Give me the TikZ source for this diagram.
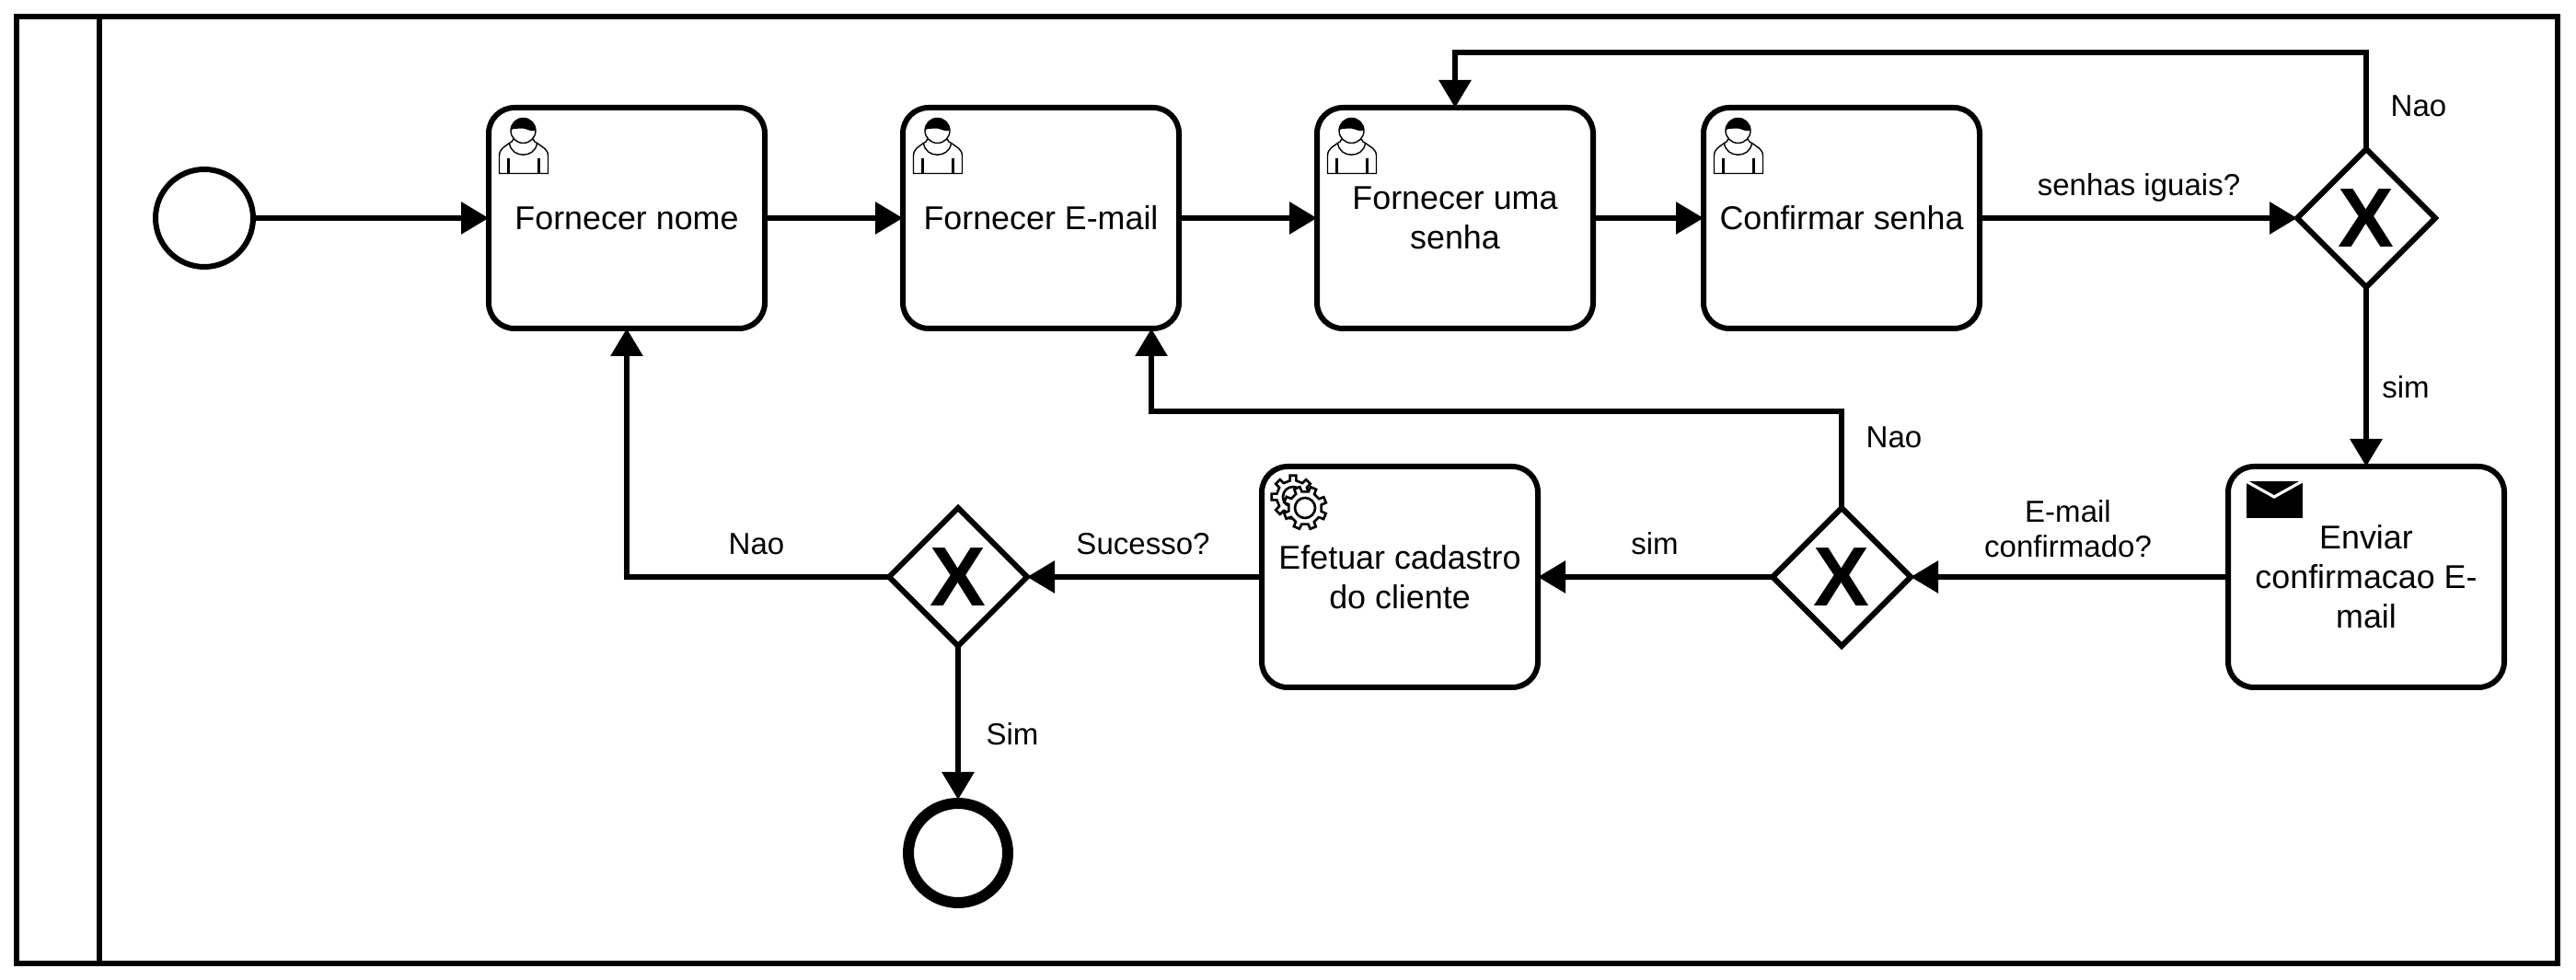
\documentclass[tikz,border=0pt]{standalone}
\usepackage{fontspec}
\setmainfont{Liberation Sans}
\usetikzlibrary{arrows.meta, calc, shapes.geometric}

\tikzset{
  usericon/.pic={
    \begin{scope}[shift={(-0.015,0.025)}, line width=0.4pt]
    \draw[fill=white] (0.13,-0.74) -- (0.13,-0.55)
      .. controls (0.13,-0.47) and (0.19,-0.45) .. (0.24,-0.41)
      .. controls (0.26,-0.40) and (0.28,-0.39) .. (0.28,-0.37)
      -- (0.50,-0.37)
      .. controls (0.50,-0.39) and (0.52,-0.40) .. (0.54,-0.41)
      .. controls (0.59,-0.45) and (0.66,-0.47) .. (0.66,-0.55)
      -- (0.66,-0.74) -- cycle;
    \draw[fill=white] (0.39,-0.275) circle (0.135);
    \fill (0.255,-0.27) arc[start angle=180, end angle=0, radius=0.135]
      .. controls (0.47,-0.30) and (0.42,-0.24) .. (0.36,-0.25)
      .. controls (0.32,-0.255) and (0.28,-0.25) .. cycle;
    \draw (0.24,-0.41) .. controls (0.26,-0.58) and (0.52,-0.58) .. (0.54,-0.41);
    \draw[line width=0.6pt] (0.23,-0.58) -- (0.23,-0.74) (0.56,-0.58) -- (0.56,-0.74);
    \end{scope}
  },
  gearicon/.pic={
    \draw[line width=0.75pt, fill=white, shift={(0.34,-0.33)}] (-11:0.18)
      \foreach \a in {0,45,...,315} { -- (\a-11:0.18) -- (\a-8:0.235) -- (\a+8:0.235) -- (\a+11:0.18) } -- cycle;
    \draw[line width=0.75pt] (0.34,-0.33) circle (0.11);
    \draw[line width=0.75pt, fill=white, shift={(0.47,-0.45)}] (11:0.18)
      \foreach \a in {22,67,...,337} { -- (\a-11:0.18) -- (\a-8:0.235) -- (\a+8:0.235) -- (\a+11:0.18) } -- cycle;
    \draw[line width=0.75pt] (0.47,-0.45) circle (0.11);
  },
  mailicon/.pic={
    \fill (0.195,-0.16) rectangle (0.805,-0.56);
    \draw[white, line width=0.9pt] (0.195,-0.16) -- (0.50,-0.33) -- (0.805,-0.16);
  }
}

\begin{document}
\begin{tikzpicture}[>={Triangle[length=0.3cm, width=0.34cm]}, line width=0.06cm,
  task/.style={draw, fill=white, rounded corners=0.28cm, minimum width=3cm,
               minimum height=2.4cm, inner sep=0pt, outer sep=0pt, align=center,
               font=\fontsize{10.2}{12.2}\selectfont},
  gateway/.style={draw, fill=white, diamond, aspect=1, inner sep=0pt, outer sep=0pt,
                  minimum size=1.5cm, font=\fontsize{26}{26}\selectfont\bfseries},
  flowlabel/.style={inner sep=0pt, align=center, font=\fontsize{9.4}{10.9}\selectfont},
  flow/.style={->}
]
\useasboundingbox (0,0) rectangle (27.99,10.65);

% Pool
\node[draw, minimum width=27.61cm, minimum height=10.29cm, inner sep=0pt] (pool) at (13.985,5.325) {};
\coordinate (lanetop) at (1.08,10.47);
\coordinate (lanebot) at (1.08,0.18);
\draw (lanetop) -- (lanebot);

% Events
\node[draw, circle, inner sep=0pt, outer sep=0pt, minimum size=1.06cm] (start) at (2.22,8.28) {};
\node[draw, circle, inner sep=0pt, outer sep=0.04cm, minimum size=1.08cm, line width=0.12cm] (end) at (10.41,1.38) {};

% Tasks, top row
\node[task] (nome) at (6.81,8.28) {Fornecer nome};
\node[task] (email) at (11.31,8.28) {Fornecer E-mail};
\node[task] (senha) at (15.81,8.28) {Fornecer uma\\senha};
\node[task] (confirma) at (20.01,8.28) {Confirmar senha};

% Tasks, bottom row
\node[task] (enviar) at (25.71,4.38) {Enviar\\confirmacao E-\\mail};
\node[task] (cadastro) at (15.21,4.38) {Efetuar cadastro\\do cliente};

% Gateways
\node[gateway] (gwsenha) at (25.71,8.28) {X};
\node[gateway] (gwemail) at (20.01,4.38) {X};
\node[gateway] (gwsucesso) at (10.41,4.38) {X};

% Icons
\foreach \t in {nome,email,senha,confirma}
  \pic at (\t.north west) {usericon};
\pic at (cadastro.north west) {gearicon};
\pic at (enviar.north west) {mailicon};

% Top row flow
\draw[flow] (start) -- (nome);
\draw[flow] (nome) -- (email);
\draw[flow] (email) -- (senha);
\draw[flow] (senha) -- (confirma);
\draw[flow] (confirma) -- (gwsenha);
\node[flowlabel] (lbliguais) at (23.24,8.61) {senhas iguais?};

% Back to the password task
\coordinate (loopsenha) at (25.71,10.08);
\draw[flow] (gwsenha.north) -- (loopsenha) -| (senha.north);
\node[flowlabel] (lblnao1) at (26.28,9.50) {Nao};

% Down and along the bottom row
\draw[flow] (gwsenha.south) -- (enviar.north);
\node[flowlabel] (lblsim1) at (26.14,6.44) {sim};
\draw[flow] (enviar) -- (gwemail);
\node[flowlabel] (lblconf) at (22.47,4.90) {E-mail\\confirmado?};
\draw[flow] (gwemail) -- (cadastro);
\node[flowlabel] (lblsim2) at (17.98,4.74) {sim};
\draw[flow] (cadastro) -- (gwsucesso);
\node[flowlabel] (lblsucesso) at (12.42,4.74) {Sucesso?};

% Back to the e-mail task
\coordinate (loopemail) at (20.01,6.18);
\coordinate (emailin) at ($(email.south)+(1.2,0)$);
\draw[flow] (gwemail.north) -- (loopemail) -| (emailin);
\node[flowlabel] (lblnao2) at (20.58,5.9) {Nao};

% Back to the name task
\draw[flow] (gwsucesso.west) -| (nome.south);
\node[flowlabel] (lblnao3) at (8.22,4.74) {Nao};

% To the end
\draw[flow] (gwsucesso.south) -- (end.north);
\node[flowlabel] (lblsim3) at (11.0,2.67) {Sim};

\end{tikzpicture}
\end{document}
